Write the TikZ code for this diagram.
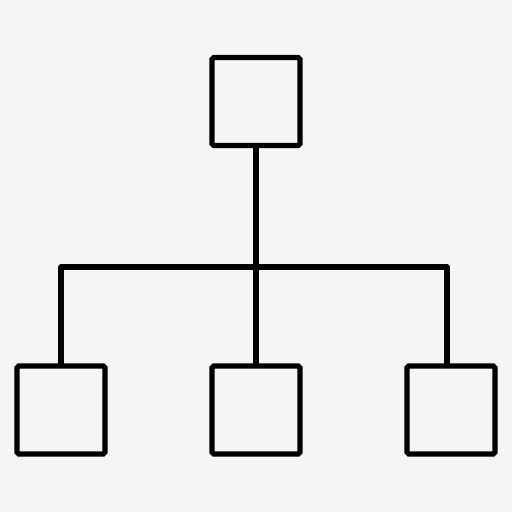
\documentclass[tikz,border=0pt]{standalone}
\usepackage{tikz}
\definecolor{bggray}{HTML}{F5F5F5}

\begin{document}
\begin{tikzpicture}[x=0.02cm,y=-0.02cm,
  every node/.style={minimum size=1.76cm, outer sep=0pt},
  box/.style={draw=black, line width=3pt, rounded corners=1pt, inner sep=0pt},
  wire/.style={draw=black, line width=3pt, line join=round}]
\fill[bggray] (0,0) rectangle (512,512);
\useasboundingbox (0,0) rectangle (512,512);

\node[box] (top) at (256,101.5) {};
\node[box] (left) at (61,410) {};
\node[box] (mid) at (256,410) {};
\node[box] (right) at (451,410) {};

\coordinate (hub) at (256,267);
\coordinate (rdrop) at ([xshift=-0.08cm]right.north);
\draw[wire] (top.south) -- (mid.north);
\draw[wire] (left.north) |- (hub) -| (rdrop);
\end{tikzpicture}
\end{document}
